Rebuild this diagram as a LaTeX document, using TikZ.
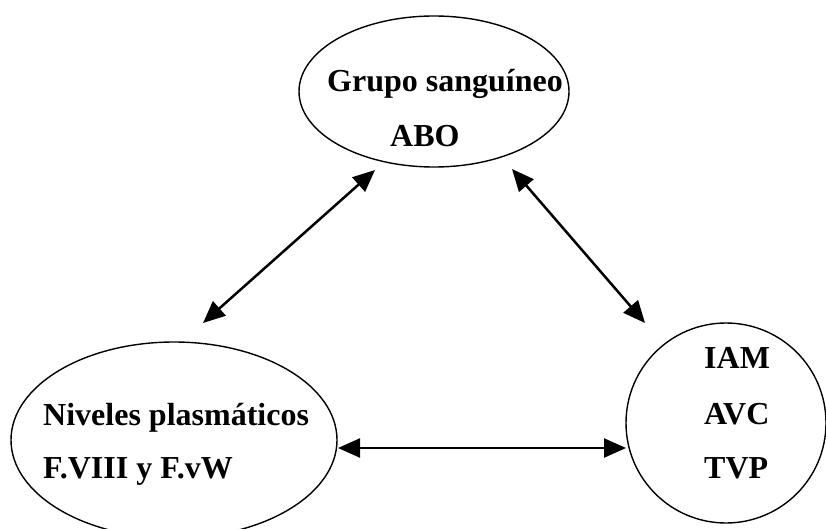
\documentclass[tikz,border=0pt]{standalone}
\usepackage{fontspec}
\setmainfont{Liberation Serif}
\usetikzlibrary{shapes.geometric,arrows.meta}
\begin{document}
\begin{tikzpicture}[x=1pt,y=-1pt,
  blob/.style={draw=black,line width=1.4pt,ellipse,inner sep=0pt},
  lbl/.style={anchor=base west,inner sep=0pt,font=\fontsize{32}{38}\selectfont\bfseries},
  link/.style={line width=2.5pt,{Triangle[length=22pt,width=19pt]}-{Triangle[length=22pt,width=19pt]}}]
\useasboundingbox (0,0) rectangle (826,529);
\node[blob,minimum width=270pt,minimum height=151pt] (grupo) at (434,91.5) {};
\node[blob,minimum width=326pt,minimum height=196pt] (niveles) at (174,440) {};
\node[blob,minimum width=200pt,minimum height=200pt] (iam) at (726,423) {};
\node[lbl] (t1) at (327,92) {Grupo sanguíneo};
\node[lbl] (t2) at (390,147) {ABO};
\node[lbl] (t3) at (43,425) {Niveles plasmáticos};
\node[lbl] (t4) at (43,478) {F.VIII y F.vW};
\node[lbl] (t5) at (704,368) {IAM};
\node[lbl] (t6) at (704,424) {AVC};
\node[lbl] (t7) at (704,478) {TVP};
\coordinate (a1s) at (375,170);
\coordinate (a1e) at (203,323);
\coordinate (a2s) at (512,169);
\coordinate (a2e) at (645,323);
\coordinate (a3s) at (338,448);
\coordinate (a3e) at (626,448);
\draw[link] (a1s) -- (a1e);
\draw[link] (a2s) -- (a2e);
\draw[link] (a3s) -- (a3e);
\end{tikzpicture}
\end{document}
